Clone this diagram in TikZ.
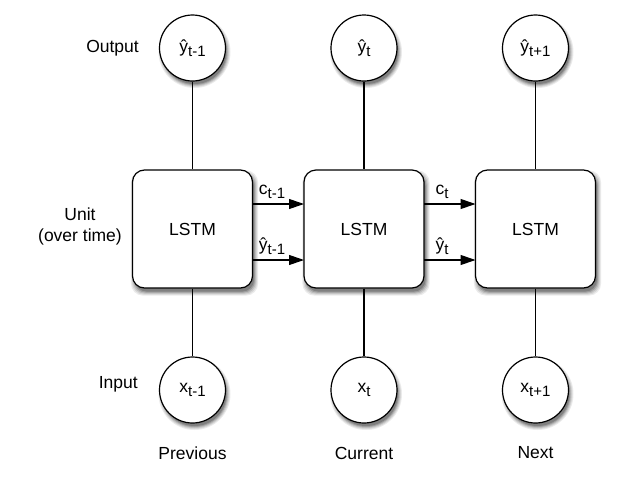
\documentclass[tikz,border=0pt]{standalone}
\usepackage{fontspec}
\setmainfont{Liberation Sans}
\usetikzlibrary{arrows.meta,calc}
\pgfdeclarelayer{bg}
\pgfsetlayers{bg,main}
\newcommand{\sbs}[1]{\raisebox{-0.4ex}{\fontsize{15}{15}\selectfont #1}}
\begin{document}
\begin{tikzpicture}[x=1pt,y=-1pt,
  every node/.style={font=\fontsize{17.5}{21}\selectfont},
  circ/.style={circle,draw,line width=1.2pt,fill=white,minimum size=66pt,inner sep=0pt},
  unit/.style={rounded corners=12pt,draw,line width=1.2pt,fill=white,minimum width=120pt,minimum height=118pt,inner sep=0pt},
  conn/.style={line width=1.1pt},
  arr/.style={line width=1.1pt,-{Triangle[length=15pt,width=10pt]}},
  lbl/.style={inner sep=1pt,anchor=south}
]
\useasboundingbox (0,0) rectangle (625,488);
\node[unit] (ua) at (192.5,229) {LSTM};
\node[unit] (ub) at (364,229) {LSTM};
\node[unit] (uc) at (535.5,229) {LSTM};
\node[circ] (ya) at (192.5,48) {ŷ\sbs{t-1}};
\node[circ] (yb) at (364,48) {ŷ\sbs{t}};
\node[circ] (yc) at (535.5,48) {ŷ\sbs{t+1}};
\node[circ] (xa) at (192.5,390) {x\sbs{t-1}};
\node[circ] (xb) at (364,390) {x\sbs{t}};
\node[circ] (xc) at (535.5,390) {x\sbs{t+1}};
% shadows (solid grey layers, outer = lighter)
\begin{pgfonlayer}{bg}
\foreach \r/\g in {3/8, 2/16, 1/26, 0/38, -1/50}{
  \foreach \n in {ya,yb,yc,xa,xb,xc}{
    \fill[black!\g] ($(\n.center)+(2,4)$) circle[radius=33+\r];
  }
  \foreach \n in {ua,ub,uc}{
    \fill[black!\g,rounded corners=12pt] ($(\n.north west)+(2-\r,4-\r)$) rectangle ($(\n.south east)+(2+\r,4+\r)$);
  }
}
\end{pgfonlayer}
\foreach \n in {a,b,c}{
  \draw[conn] (y\n.south) -- (u\n.north);
  \draw[conn] (u\n.south) -- (x\n.north);
}
% arrows
\coordinate (a1s) at (252.5,204); \coordinate (a1e) at (304,204);
\coordinate (a2s) at (252.5,260); \coordinate (a2e) at (304,260);
\coordinate (b1s) at (424,204); \coordinate (b1e) at (475.5,204);
\coordinate (b2s) at (424,260); \coordinate (b2e) at (475.5,260);
\draw[arr] (a1s) -- (a1e);
\draw[arr] (a2s) -- (a2e);
\draw[arr] (b1s) -- (b1e);
\draw[arr] (b2s) -- (b2e);
\node[lbl] (lc1) at (272,200) {c\sbs{t-1}};
\node[lbl] (ly1) at (272,256) {ŷ\sbs{t-1}};
\node[lbl] (lc2) at (442,200) {c\sbs{t}};
\node[lbl] (ly2) at (442,256) {ŷ\sbs{t}};
% side labels
\node[anchor=east,inner sep=0pt] (out) at (139,48) {Output};
\node[align=center,inner sep=0pt] (unitl) at (80,226) {Unit\\(over time)};
\node[anchor=east,inner sep=0pt] (inp) at (138,384) {Input};
\node (prev) at (192.5,453) {Previous};
\node (cur) at (364,453) {Current};
\node (next) at (535.5,453) {Next};
\end{tikzpicture}
\end{document}
